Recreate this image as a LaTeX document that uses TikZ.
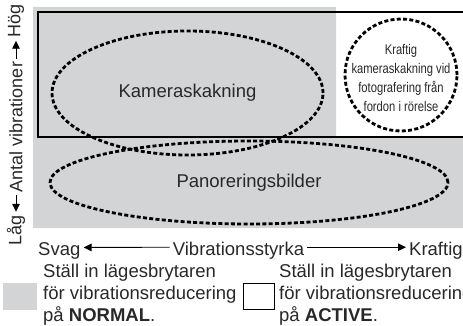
\documentclass[tikz,border=0pt]{standalone}
\usepackage{fontspec}
\setmainfont{Liberation Sans}
\newfontfamily\narrowfont[FakeStretch=0.8]{Liberation Sans}
\usetikzlibrary{shapes.geometric,arrows.meta,positioning}
\definecolor{panelgray}{RGB}{211,212,214}
\definecolor{inkgray}{RGB}{40,40,40}

\begin{document}
\begin{tikzpicture}[x=1pt, y=-1pt,
    txt/.style={font=\fontsize{18.5}{22}\selectfont, text=inkgray, inner sep=0pt},
    vtxt/.style={font=\fontsize{18}{20}\selectfont, text=inkgray, inner sep=0pt, rotate=90},
    zone/.style={draw=black, line width=2.8pt, dash pattern=on 4pt off 2.3pt, inner sep=0pt},
    keybox/.style={minimum width=31pt, minimum height=26pt, inner sep=0pt},
    axarrow/.style={-{Triangle[length=8pt,width=7.5pt]}, line width=0.9pt, black,
        shorten <=3pt, shorten >=3pt}]
    \useasboundingbox (0,0) rectangle (463,326);
    \clip (0,0) rectangle (463,326);

    % NORMAL area and ACTIVE frame
    \fill[panelgray] (33,7) -- (336,7) -- (336,137) -- (470,137) -- (470,228) -- (33,228) -- cycle;
    \draw[line width=1.6pt] (38,12) rectangle (475,137);

    % Zones
    \node[zone, ellipse, minimum width=271pt, minimum height=124pt, txt] (kamera) at (187.5,93) {Kameraskakning};
    \node[zone, ellipse, minimum width=398pt, minimum height=83pt, txt] (panorering) at (249,182.5) {\raisebox{-3pt}{Panoreringsbilder}};
    \node[zone, circle, minimum size=112pt] (fordon) at (401,75) {};
    \node[font=\narrowfont\fontsize{14}{19}\selectfont, text=inkgray, inner sep=0pt, align=center] (fordontxt) at (fordon.center) [yshift=-3pt]
        {Kraftig\\kameraskakning vid\\fotografering från\\fordon i rörelse};

    % Axis: number of vibrations
    \node[vtxt] (hog) at (16,21) {Hög};
    \node[vtxt] (antal) at (16,127) {Antal vibrationer};
    \node[vtxt] (lag) at (16,230) {Låg};
    \draw[axarrow] (antal.east) -- (hog.west);
    \draw[axarrow] (antal.west) -- (lag.east);

    % Axis: vibration strength
    \node[txt, anchor=base west] (svag) at (38,255) {Svag};
    \node[txt, anchor=base] (styrka) at (238.5,255) {Vibrationsstyrka};
    \node[txt, anchor=base west] (kraftig) at (409,255) {Kraftig};
    \draw[axarrow] ([yshift=3pt]styrka.west) -- ([yshift=3pt]svag.east);
    \draw[axarrow] ([yshift=3pt]styrka.east) -- ([yshift=3pt]kraftig.west);

    % Legend
    \node[keybox, fill=panelgray, minimum width=34pt, minimum height=27pt] (normalkey) at (20,296.5) {};
    \node[keybox, draw=black, line width=1pt] (activekey) at (258.5,296) {};
    \node[txt, align=left, anchor=north west] (normaltxt) at (43,264)
        {Ställ in lägesbrytaren\\för vibrationsreducering\\på \textbf{NORMAL}.};
    \node[txt, align=left, anchor=north west] (activetxt) at (279,264)
        {Ställ in lägesbrytaren\\för vibrationsreducering\\på \textbf{ACTIVE}.};
\end{tikzpicture}
\end{document}
